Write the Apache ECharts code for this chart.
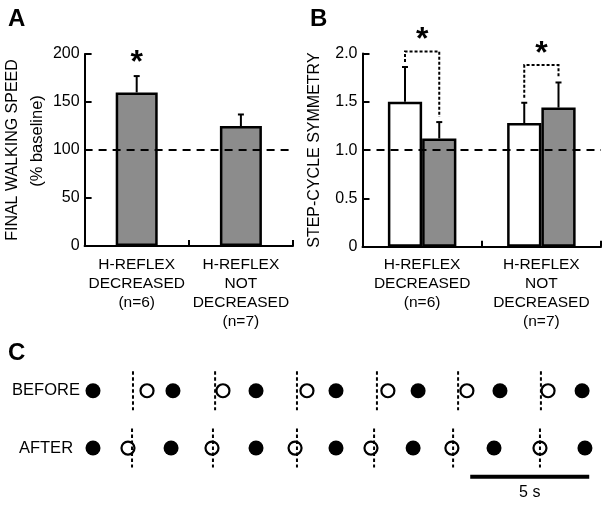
<!DOCTYPE html>
<html><head><meta charset="utf-8">
<script src="https://cdn.jsdelivr.net/npm/echarts@6/dist/echarts.min.js"></script>
<style>html,body{margin:0;padding:0;background:#fff}#c{width:612px;height:505px}</style>
</head><body><div id="c"></div>
<script>
// ---------- Panel A data ----------
const groupsA = ['H-REFLEX\nDECREASED\n(n=6)', 'H-REFLEX\nNOT\nDECREASED\n(n=7)'];
const speedMean = [160, 125];
const speedErr = [17, 12];
const speedSig = [1, 0];
const speedTicks = ['0', '50', '100', '150', '200'];
const speedBaseline = 100;
// ---------- Panel B data ----------
const groupsB = ['H-REFLEX\nDECREASED\n(n=6)', 'H-REFLEX\nNOT\nDECREASED\n(n=7)'];
const symBefore = [1.50, 1.28];
const symBeforeErr = [0.36, 0.21];
const symAfter = [1.12, 1.44];
const symAfterErr = [0.17, 0.26];
const symBracket = [2.02, 1.88];
const symTicks = ['0', '0.5', '1.0', '1.5', '2.0'];
const symBaseline = 1.0;
// ---------- Panel C data (seconds) ----------
const rowLabels = ['BEFORE', 'AFTER'];
const beforeFilled = [0, 3.36, 6.85, 10.21, 13.66, 17.10, 20.55];
const beforeOpen = [2.27, 5.46, 8.99, 12.39, 15.71, 19.12];
const beforeMarks = [1.68, 5.13, 8.57, 11.93, 15.34, 18.82];
const afterFilled = [0, 3.28, 6.85, 10.21, 13.45, 16.85, 20.67];
const afterOpen = [1.47, 5.00, 8.49, 11.68, 15.08, 18.78];
const afterMarks = [1.64, 5.04, 8.57, 11.81, 15.13, 18.78];
const scaleBarStart = 15.85;
const scaleBarLength = 5;
const scaleBarLabel = '5 s';

// ---------- styling ----------
const FONT = '"Liberation Sans", Arial, sans-serif';
const GRAY = '#8c8c8c';
const BAR_A = 42, BAR_B = 34.25, GAP = 5;
const ROW_BEFORE = 2, ROW_AFTER = 1, ROW_BAR = 0.5;

const chart = echarts.init(document.getElementById('c'));

function errorBars(offsetPx) {
  return function (params, api) {
    const c = api.value(0);
    const p0 = api.coord([c, api.value(1)]);
    const p1 = api.coord([c, api.value(2)]);
    const x = p0[0] + offsetPx;
    const kids = [
      {type: 'line', shape: {x1: x, y1: p0[1], x2: x, y2: p1[1]}, style: {stroke: '#000', lineWidth: 2}},
      {type: 'line', shape: {x1: x - 3, y1: p1[1], x2: x + 3, y2: p1[1]}, style: {stroke: '#000', lineWidth: 2}}
    ];
    if (api.value(3)) {
      kids.push({type: 'text', x: x, y: p1[1] - 13,
        style: {text: '*', fontSize: 32, fontWeight: 'bold', fontFamily: FONT, fill: '#000', align: 'center', verticalAlign: 'middle'}});
    }
    return {type: 'group', children: kids};
  };
}

function bracketRender(params, api) {
  const c = api.value(0);
  const lt = api.coord([c, api.value(1)]);
  const rt = api.coord([c, api.value(2)]);
  const lv = api.coord([c, api.value(3)]);
  const xl = lt[0] - BAR_B / 2, xr = lt[0] + BAR_B / 2;
  return {type: 'group', children: [
    {type: 'polyline', shape: {points: [[xl, lt[1] - GAP], [xl, lv[1]], [xr, lv[1]], [xr, rt[1] - GAP]]},
      style: {stroke: '#000', lineWidth: 2, lineDash: [3, 2], fill: null}},
    {type: 'text', x: (xl + xr) / 2, y: lv[1] - 11,
      style: {text: '*', fontSize: 32, fontWeight: 'bold', fontFamily: FONT, fill: '#000', align: 'center', verticalAlign: 'middle'}}
  ]};
}

function markRender(params, api) {
  const t = api.value(0), r = api.value(1);
  const a = api.coord([t, r + 0.34]), b = api.coord([t, r - 0.34]);
  return {type: 'line', shape: {x1: a[0], y1: a[1], x2: b[0], y2: b[1]},
    style: {stroke: '#000', lineWidth: 2, lineDash: [3.5, 2.5]}};
}

function rowLabelRender(params, api) {
  const p = api.coord([api.value(0), api.value(1)]);
  return {type: 'text', x: p[0] - 47, y: p[1],
    style: {text: rowLabels[params.dataIndex], fontSize: 16.5, fontFamily: FONT, fill: '#000', align: 'center', verticalAlign: 'middle'}};
}

function scaleBarRender(params, api) {
  const a = api.coord([api.value(0), api.value(2)]);
  const b = api.coord([api.value(1), api.value(2)]);
  return {type: 'group', children: [
    {type: 'line', shape: {x1: a[0], y1: a[1], x2: b[0], y2: b[1]}, style: {stroke: '#000', lineWidth: 4}},
    {type: 'text', x: (a[0] + b[0]) / 2, y: a[1] + 16,
      style: {text: scaleBarLabel, fontSize: 16, fontFamily: FONT, fill: '#000', align: 'center', verticalAlign: 'middle'}}
  ]};
}

const blackLine = {color: '#000', width: 2};
function catAxis(grid, data) {
  return {type: 'category', gridIndex: grid, data: data,
    axisLine: {lineStyle: blackLine},
    axisTick: {show: true, inside: true, length: 6, lineStyle: blackLine},
    axisLabel: {interval: 0, color: '#000', fontSize: 15.5, lineHeight: 19, margin: 9, fontFamily: FONT},
    splitLine: {show: false}};
}
function valAxis(grid, max, interval, ticks, name, nameGap) {
  return {type: 'value', gridIndex: grid, min: 0, max: max, interval: interval,
    axisLine: {show: true, lineStyle: blackLine},
    axisTick: {show: true, inside: true, length: 7, lineStyle: blackLine},
    axisLabel: {color: '#000', fontSize: 16, margin: 5, fontFamily: FONT, formatter: (v, i) => ticks[i]},
    splitLine: {show: false},
    name: name, nameLocation: 'middle', nameRotate: 90, nameGap: nameGap,
    nameTextStyle: {color: '#000', fontSize: 16, fontFamily: FONT, lineHeight: 22,
      rich: {a: {fontSize: 16, fontFamily: FONT, color: '#000', lineHeight: 24},
             b: {fontSize: 16.5, fontFamily: FONT, color: '#000', lineHeight: 24, padding: [0, 0, 0, 18]}}}};
}
const baseLine = (v) => ({silent: true, symbol: 'none', z: 5, label: {show: false},
  lineStyle: {color: '#000', type: [8, 6], width: 2, opacity: 1}, data: [{yAxis: v}]});

const filledStyle = {color: '#000', opacity: 1};
const openStyle = {color: '#fff', borderColor: '#000', borderWidth: 2.2, opacity: 1};

const option = {
  animation: false,
  textStyle: {fontFamily: FONT, color: '#000'},
  graphic: [
    {type: 'text', left: 8, top: 7, style: {text: 'A', fontSize: 24, fontWeight: 'bold', fontFamily: FONT, fill: '#000'}},
    {type: 'text', left: 310, top: 7, style: {text: 'B', fontSize: 24, fontWeight: 'bold', fontFamily: FONT, fill: '#000'}},
    {type: 'text', left: 8, top: 341, style: {text: 'C', fontSize: 24, fontWeight: 'bold', fontFamily: FONT, fill: '#000'}}
  ],
  grid: [
    {left: 80, top: 54, width: 213, height: 192},
    {left: 362.5, top: 53.5, width: 238.5, height: 193.2},
    {left: 93, top: 344.9, width: 21 * 23.8, height: 149}
  ],
  xAxis: [
    catAxis(0, groupsA),
    catAxis(1, groupsB),
    {type: 'value', gridIndex: 2, min: 0, max: 21, show: false}
  ],
  yAxis: [
    valAxis(0, 200, 50, speedTicks, '{a|FINAL WALKING SPEED}\n{b|(% baseline)}', 31),
    valAxis(1, 2, 0.5, symTicks, 'STEP-CYCLE SYMMETRY', 37),
    {type: 'value', gridIndex: 2, min: 0.2, max: 2.8, show: false}
  ],
  series: [
    // Panel A
    {type: 'bar', xAxisIndex: 0, yAxisIndex: 0, data: speedMean, barWidth: BAR_A,
      itemStyle: {color: GRAY, borderColor: '#000', borderWidth: 2.5},
      markLine: baseLine(speedBaseline)},
    {type: 'custom', xAxisIndex: 0, yAxisIndex: 0, z: 4, renderItem: errorBars(0),
      encode: {x: 0, y: [1, 2]},
      data: speedMean.map((m, i) => [i, m, m + speedErr[i], speedSig[i]])},
    // Panel B
    {type: 'bar', xAxisIndex: 1, yAxisIndex: 1, data: symBefore, barWidth: BAR_B, barGap: '0%',
      itemStyle: {color: '#fff', borderColor: '#000', borderWidth: 2.5},
      markLine: baseLine(symBaseline)},
    {type: 'bar', xAxisIndex: 1, yAxisIndex: 1, data: symAfter, barWidth: BAR_B, barGap: '0%',
      itemStyle: {color: GRAY, borderColor: '#000', borderWidth: 2.5}},
    {type: 'custom', xAxisIndex: 1, yAxisIndex: 1, z: 4, renderItem: errorBars(-BAR_B / 2),
      encode: {x: 0, y: [1, 2]},
      data: symBefore.map((m, i) => [i, m, m + symBeforeErr[i], 0])},
    {type: 'custom', xAxisIndex: 1, yAxisIndex: 1, z: 4, renderItem: errorBars(BAR_B / 2),
      encode: {x: 0, y: [1, 2]},
      data: symAfter.map((m, i) => [i, m, m + symAfterErr[i], 0])},
    {type: 'custom', xAxisIndex: 1, yAxisIndex: 1, z: 4, renderItem: bracketRender,
      encode: {x: 0, y: [1, 2, 3]},
      data: symBefore.map((m, i) => [i, m + symBeforeErr[i], symAfter[i] + symAfterErr[i], symBracket[i]])},
    // Panel C
    {type: 'scatter', xAxisIndex: 2, yAxisIndex: 2, symbol: 'circle', symbolSize: 15, silent: true,
      itemStyle: filledStyle, data: beforeFilled.map(t => [t, ROW_BEFORE])},
    {type: 'scatter', xAxisIndex: 2, yAxisIndex: 2, symbol: 'circle', symbolSize: 15, silent: true,
      itemStyle: filledStyle, data: afterFilled.map(t => [t, ROW_AFTER])},
    {type: 'scatter', xAxisIndex: 2, yAxisIndex: 2, symbol: 'circle', symbolSize: 13, silent: true,
      itemStyle: openStyle, data: beforeOpen.map(t => [t, ROW_BEFORE])},
    {type: 'scatter', xAxisIndex: 2, yAxisIndex: 2, symbol: 'circle', symbolSize: 13, silent: true,
      itemStyle: openStyle, data: afterOpen.map(t => [t, ROW_AFTER])},
    {type: 'custom', xAxisIndex: 2, yAxisIndex: 2, z: 6, renderItem: markRender, encode: {x: 0, y: 1},
      data: beforeMarks.map(t => [t, ROW_BEFORE]).concat(afterMarks.map(t => [t, ROW_AFTER]))},
    {type: 'custom', xAxisIndex: 2, yAxisIndex: 2, z: 6, renderItem: rowLabelRender, encode: {x: 0, y: 1},
      data: [[0, ROW_BEFORE], [0, ROW_AFTER]]},
    {type: 'custom', xAxisIndex: 2, yAxisIndex: 2, z: 6, renderItem: scaleBarRender, encode: {x: [0, 1], y: 2},
      data: [[scaleBarStart, scaleBarStart + scaleBarLength, ROW_BAR]]}
  ]
};
chart.setOption(option);
</script>
</body></html>
